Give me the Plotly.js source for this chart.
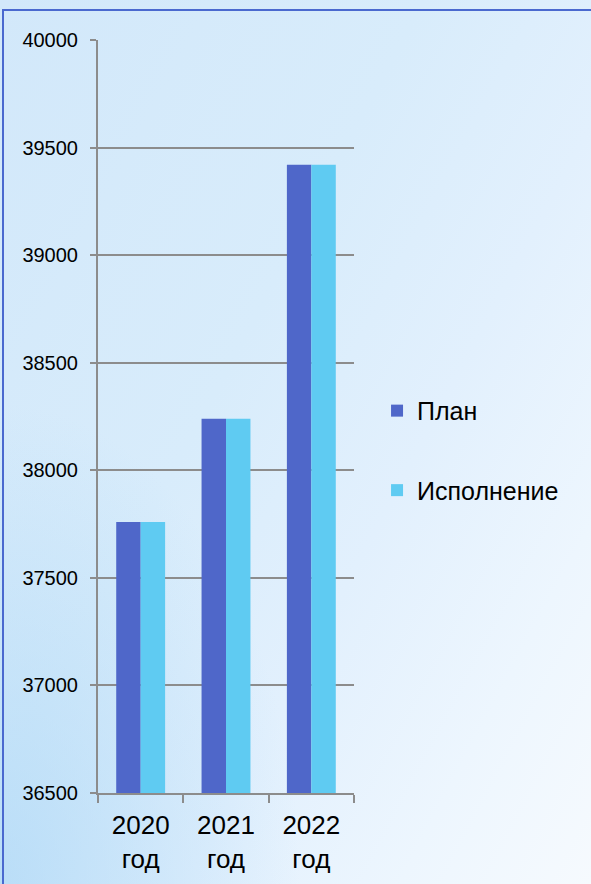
<!DOCTYPE html>
<html>
<head>
<meta charset="utf-8">
<script src="https://cdn.plot.ly/plotly-3.0.1.min.js"></script>
<style>
  html, body { margin: 0; padding: 0; width: 591px; height: 884px; overflow: hidden; }
  #wrap {
    position: relative; width: 591px; height: 884px;
    background:
      radial-gradient(ellipse 300px 480px at 0px 884px, rgba(172,215,246,0.7), rgba(172,215,246,0) 100%),
      linear-gradient(118deg, #d2e8fa 0%, #d8ecfb 40%, #e2f0fd 62%, #edf6fe 82%, #f6fafe 100%);
  }
  #frame {
    position: absolute; left: 2px; top: 9px; right: -10px; bottom: -10px;
    border-top: 2px solid #4a69cf; border-left: 2px solid #4a69cf;
    pointer-events: none;
  }
  #chart { position: absolute; left: 0; top: 0; width: 591px; height: 884px; }
</style>
</head>
<body>
<div id="wrap">
  <div id="chart"></div>
  <div id="frame"></div>
</div>
<script>
const categories = ["2020<br>год", "2021<br>год", "2022<br>год"];
const planValues = [37760, 38240, 39420];
const execValues = [37760, 38240, 39420];
const seriesNames = ["План", "Исполнение"];
const yTicks = [36500, 37000, 37500, 38000, 38500, 39000, 39500, 40000];

const font = "Liberation Sans, Arial, sans-serif";

const data = [
  { type: "bar", name: seriesNames[0], x: categories, y: planValues,
    marker: { color: "#4f67c9" }, legendgroup: "a", hoverinfo: "y" },
  { type: "bar", name: seriesNames[1], x: categories, y: execValues,
    marker: { color: "#5fcbf2" }, legendgroup: "b", hoverinfo: "y" }
];

const layout = {
  width: 591, height: 884,
  margin: { l: 98, r: 237, t: 40, b: 91, pad: 0 },
  paper_bgcolor: "rgba(0,0,0,0)",
  plot_bgcolor: "rgba(0,0,0,0)",
  barmode: "group",
  bargap: 0.427,
  bargroupgap: 0,
  font: { family: font, color: "#000000" },
  xaxis: {
    type: "category",
    showline: true, linecolor: "#8c8c8c", linewidth: 2,
    ticks: "outside", tickson: "boundaries", ticklen: 8, tickwidth: 2, tickcolor: "#8c8c8c",
    ticklabelstandoff: 8,
    showgrid: false,
    tickfont: { size: 26, family: font, color: "#000" }
  },
  yaxis: {
    range: [36500, 40000],
    tickvals: yTicks,
    ticktext: yTicks.map(String),
    showline: true, linecolor: "#8c8c8c", linewidth: 2,
    ticks: "outside", ticklen: 6, tickwidth: 2, tickcolor: "#8c8c8c",
    ticklabelstandoff: 8,
    showgrid: true, gridcolor: "#8c8c8c", gridwidth: 2,
    zeroline: false,
    tickfont: { size: 20, family: font, color: "#000" }
  },
  legend: {
    x: 1.09, xanchor: "left", y: 0.455, yanchor: "middle",
    traceorder: "grouped", tracegroupgap: 44,
    font: { size: 25, family: font, color: "#000" },
    bgcolor: "rgba(0,0,0,0)"
  },
  showlegend: true
};

Plotly.newPlot("chart", data, layout, { displayModeBar: false, staticPlot: true });
</script>
</body>
</html>
